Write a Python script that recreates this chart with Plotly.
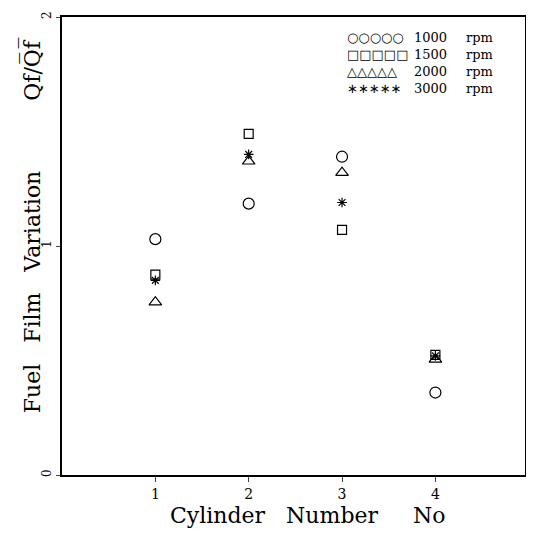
import plotly.graph_objects as go

cylinders = [1, 2, 3, 4]
rpm_labels = ["1000", "1500", "2000", "3000"]
v1000 = [1.03, 1.185, 1.39, 0.36]
v1500 = [0.875, 1.49, 1.07, 0.525]
v2000 = [0.755, 1.37, 1.32, 0.505]
v3000 = [0.85, 1.40, 1.19, 0.52]
x_ticks = [1, 2, 3, 4]
y_ticks = [0, 1, 2]

series = [v1000, v1500, v2000, v3000]
symbols = ["circle-open", "square-open", "triangle-up-open", "asterisk-open"]
sizes = [11, 9, 11, 8]
legend_glyphs = ["○○○○○", "□□□□□", "△△△△△", "∗∗∗∗∗"]

FONT = "DejaVu Serif"
NB = "\u00a0"
fig = go.Figure()
for vals, sym, sz in zip(series, symbols, sizes):
    fig.add_trace(go.Scatter(
        x=cylinders, y=vals, mode="markers",
        marker=dict(symbol=sym, size=sz, color="black",
                    line=dict(color="black", width=1.2)),
        showlegend=False))

# hand-drawn style legend: three text columns
legend_cols = [
    ("<br>".join(legend_glyphs), 0.611, "DejaVu Sans"),
    ("<br>".join(rpm_labels), 0.756, FONT),
    ("<br>".join(["rpm"] * len(rpm_labels)), 0.868, FONT),
]
for txt, xx, fam in legend_cols:
    fig.add_annotation(xref="paper", yref="paper", x=xx, y=0.900,
                       xanchor="left", yanchor="middle", align="left",
                       showarrow=False, text=txt,
                       font=dict(family=fam, size=13, color="black"))

# axis titles
fig.add_annotation(xref="paper", yref="paper", x=0.530, y=-0.088,
                   xanchor="center", yanchor="middle", showarrow=False,
                   text="Cylinder" + NB * 3 + "Number" + NB * 5 + "No",
                   font=dict(family=FONT, size=22, color="black"))
fig.add_annotation(xref="paper", yref="paper", x=-0.064, y=0.546,
                   xanchor="center", yanchor="middle", showarrow=False, textangle=-90,
                   text="Fuel" + NB * 3 + "Film" + NB * 3 + "Variation" + NB * 10 + "Qf/Q\u0305f\u0305",
                   font=dict(family=FONT, size=22, color="black"))

# page body has an 8px margin, so the figure is sized and offset to compensate
fig.update_layout(
    width=526, height=525,
    margin=dict(l=54, r=9, t=3, b=58),
    plot_bgcolor="white", paper_bgcolor="white",
    font=dict(family=FONT, color="black"),
    xaxis=dict(range=[0, 4.96], tickvals=x_ticks, ticks="outside", ticklen=5,
               showgrid=False, zeroline=False, showline=True, linecolor="black",
               linewidth=2, mirror=True, tickfont=dict(size=14, family=FONT)),
    yaxis=dict(range=[0, 2], tickvals=y_ticks, ticks="outside", ticklen=4,
               tickangle=-90, ticklabeloverflow="allow",
               showgrid=False, zeroline=False, showline=True, linecolor="black",
               linewidth=2, mirror=True, tickfont=dict(size=12, family=FONT)),
)

fig.write_html("out.html")
